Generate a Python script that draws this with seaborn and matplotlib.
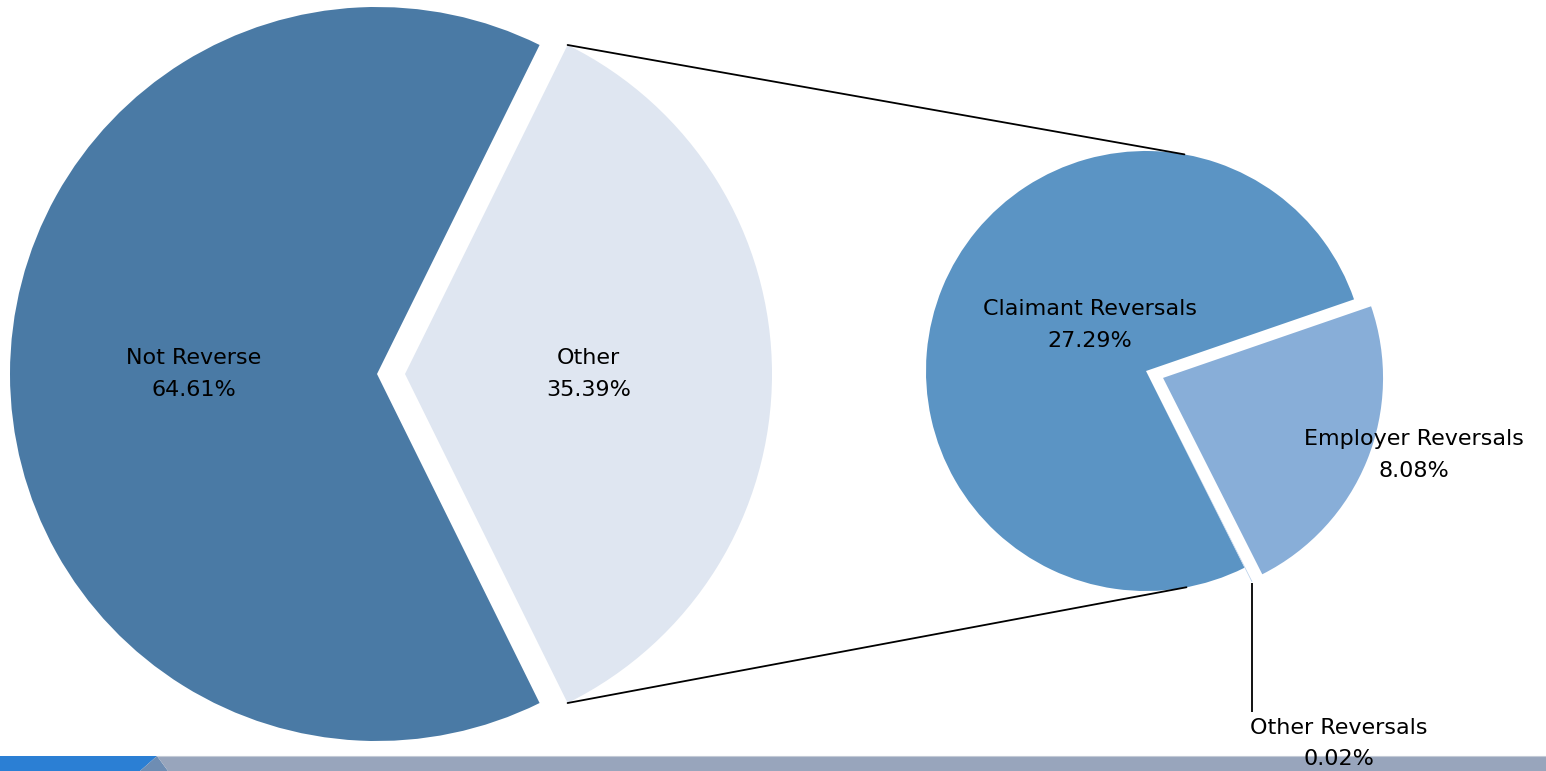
import numpy as np
import matplotlib
matplotlib.use("Agg")
import matplotlib.pyplot as plt
import seaborn as sns

# Breakdown of all decisions, and of the "Other" slice in detail
main_labels = ["Other", "Not Reverse"]
main_values = [35.39, 64.61]

detail_labels = ["Claimant Reversals", "Other Reversals", "Employer Reversals"]
detail_values = [27.29, 0.02, 8.08]

main_colors = ["#dfe6f1", "#4a7aa5"]
detail_colors = ["#5b94c4", "#b9d0ea", "#88aed8"]

sns.set_theme(style="white")
plt.rcParams["font.family"] = ["DejaVu Sans"]

W, H = 1546, 771
fig = plt.figure(figsize=(W / 100, H / 100), dpi=100)
ax = fig.add_axes([0, 0, 1, 1])

# Main pie: "Other" is pulled out and centred on the right-hand side
main_start = -main_values[0] / sum(main_values) * 360 / 2
main_wedges, _ = ax.pie(
    main_values, colors=main_colors, startangle=main_start,
    counterclock=True, explode=[28, 0], radius=367,
    center=(377, H - 374), wedgeprops=dict(linewidth=0),
)

# Detail pie for the "Other" slice
detail_wedges, _ = ax.pie(
    detail_values, colors=detail_colors, startangle=19,
    counterclock=True, explode=[0, 16, 18.4], radius=220,
    center=(1146, H - 371), wedgeprops=dict(linewidth=0),
)

fs = 16
ls = 1.7

# Labels inside the main pie, halfway along each wedge's mid-angle
for w, lab, val in zip(main_wedges, main_labels, main_values):
    mid = np.deg2rad((w.theta1 + w.theta2) / 2)
    cx, cy = w.center
    ax.text(cx + 0.5 * w.r * np.cos(mid), cy + 0.5 * w.r * np.sin(mid),
            f"{lab}\n{val:.2f}%", ha="center", va="center",
            fontsize=fs, color="black", multialignment="center",
            linespacing=ls)

# Labels of the detail pie
ax.text(1090, H - 325, f"{detail_labels[0]}\n{detail_values[0]:.2f}%",
        ha="center", va="center", fontsize=fs, color="black",
        multialignment="center", linespacing=ls)
ax.text(1414, H - 455, f"{detail_labels[2]}\n{detail_values[2]:.2f}%",
        ha="center", va="center", fontsize=fs, color="black",
        multialignment="center", linespacing=ls)

# Leader line and label for the tiny slice
ow = detail_wedges[1]
omid = np.deg2rad((ow.theta1 + ow.theta2) / 2)
tip_x = ow.center[0] + ow.r * np.cos(omid)
tip_y = ow.center[1] + ow.r * np.sin(omid)
ax.plot([tip_x, tip_x], [tip_y - 1, H - 712], color="black", lw=1.3,
        solid_capstyle="butt", zorder=3)
ax.text(tip_x - 2, H - 718, f"{detail_labels[1]}\n{detail_values[1]:.2f}%",
        ha="left", va="top", fontsize=fs, color="black",
        multialignment="center", linespacing=ls, zorder=6)

# Connector lines: from the ends of the "Other" arc, tangent to the detail pie
ow_main = main_wedges[0]
mcx, mcy = ow_main.center
dcx, dcy = detail_wedges[0].center
r2 = detail_wedges[0].r
for theta, sign in ((ow_main.theta2, -1), (ow_main.theta1, 1)):
    t = np.deg2rad(theta)
    px, py = mcx + ow_main.r * np.cos(t), mcy + ow_main.r * np.sin(t)
    d = np.hypot(px - dcx, py - dcy)
    phi = np.arctan2(py - dcy, px - dcx)
    tang = phi + sign * np.arccos(r2 / d)
    qx, qy = dcx + r2 * np.cos(tang), dcy + r2 * np.sin(tang)
    ax.plot([px, qx], [py, qy], color="black", lw=1.3, zorder=3)

# Footer band
ax.fill([0, 157, 140, 0], [15, 15, 0, 0], color="#2b7fd4", lw=0, zorder=4)
ax.fill([157, 140, 168], [15, 0, 0], color="#6e8db3", lw=0, zorder=4)
ax.fill([157, W, W, 168], [15, 15, 0, 0], color="#98a5bc", lw=0, zorder=4)
ax.plot([157, W], [15, 15], color="#c3cad6", lw=0.8, zorder=4)

ax.set_xlim(0, W)
ax.set_ylim(0, H)
ax.set_aspect("equal")
ax.axis("off")

fig.savefig("out.png", dpi=100, facecolor="white")
